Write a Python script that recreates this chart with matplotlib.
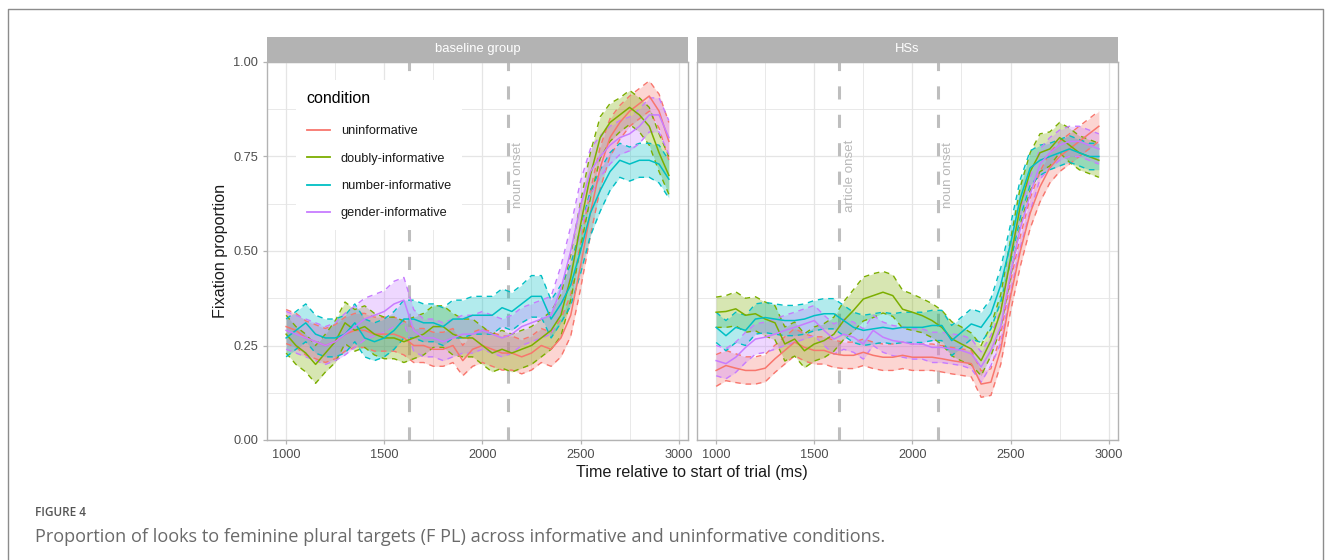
import matplotlib
matplotlib.use("Agg")
import matplotlib.pyplot as plt
from matplotlib.lines import Line2D
import numpy as np

# ---------------- data ----------------
time_ms = list(range(1000, 3000, 50))
conditions = ["uninformative", "doubly-informative", "number-informative", "gender-informative"]
colors = ["#F8766D", "#7CAE00", "#00BFC4", "#C77CFF"]
panels = ["baseline group", "HSs"]
tick_x = [1000, 1500, 2000, 2500, 3000]
tick_y = [0.00, 0.25, 0.50, 0.75, 1.00]
onsets_baseline = [1627, 2128]
onsets_hs = [1627, 2128]
onset_labels = ["article onset", "noun onset"]

# baseline group: means
base_uninf = [0.30, 0.29, 0.27, 0.26, 0.25, 0.26, 0.28, 0.29, 0.29, 0.28,
              0.28, 0.28, 0.27, 0.25, 0.25, 0.24, 0.24, 0.25, 0.21, 0.24,
              0.25, 0.24, 0.23, 0.23, 0.22, 0.23, 0.25, 0.24, 0.27, 0.33,
              0.46, 0.60, 0.72, 0.80, 0.84, 0.87, 0.89, 0.91, 0.87, 0.79]
base_doubly = [0.28, 0.25, 0.23, 0.20, 0.23, 0.26, 0.31, 0.29, 0.30, 0.28,
               0.27, 0.27, 0.26, 0.27, 0.28, 0.30, 0.30, 0.28, 0.27, 0.27,
               0.25, 0.23, 0.24, 0.23, 0.24, 0.25, 0.27, 0.29, 0.33, 0.43,
               0.57, 0.70, 0.80, 0.84, 0.86, 0.88, 0.86, 0.83, 0.76, 0.70]
base_number = [0.27, 0.29, 0.31, 0.28, 0.27, 0.27, 0.28, 0.31, 0.27, 0.26,
               0.27, 0.29, 0.32, 0.32, 0.31, 0.31, 0.30, 0.32, 0.32, 0.33,
               0.33, 0.33, 0.35, 0.34, 0.36, 0.38, 0.38, 0.32, 0.36, 0.41,
               0.50, 0.60, 0.66, 0.71, 0.74, 0.73, 0.74, 0.74, 0.73, 0.69]
base_gender = [0.29, 0.28, 0.27, 0.26, 0.25, 0.26, 0.28, 0.30, 0.32, 0.33,
               0.34, 0.36, 0.37, 0.29, 0.27, 0.27, 0.26, 0.27, 0.28, 0.28,
               0.29, 0.28, 0.27, 0.28, 0.30, 0.31, 0.32, 0.33, 0.40, 0.50,
               0.62, 0.71, 0.75, 0.78, 0.80, 0.81, 0.83, 0.86, 0.86, 0.80]
# baseline group: ribbon half-widths
base_uninf_hw = [0.045, 0.045, 0.045, 0.045, 0.045, 0.045, 0.045, 0.045, 0.045, 0.045,
                 0.045, 0.045, 0.045, 0.045, 0.045, 0.045, 0.045, 0.045, 0.040, 0.045,
                 0.045, 0.045, 0.045, 0.045, 0.045, 0.045, 0.045, 0.045, 0.050, 0.055,
                 0.060, 0.060, 0.055, 0.050, 0.045, 0.040, 0.040, 0.040, 0.045, 0.050]
base_doubly_hw = [0.050, 0.050, 0.050, 0.050, 0.050, 0.055, 0.055, 0.055, 0.055, 0.055,
                  0.055, 0.055, 0.055, 0.055, 0.055, 0.055, 0.055, 0.055, 0.050, 0.050,
                  0.050, 0.050, 0.050, 0.050, 0.050, 0.050, 0.050, 0.050, 0.055, 0.060,
                  0.060, 0.060, 0.055, 0.050, 0.045, 0.045, 0.045, 0.050, 0.050, 0.050]
base_number_hw = [0.050, 0.050, 0.050, 0.050, 0.050, 0.050, 0.050, 0.050, 0.050, 0.050,
                  0.050, 0.050, 0.050, 0.050, 0.050, 0.050, 0.050, 0.050, 0.050, 0.050,
                  0.050, 0.050, 0.050, 0.050, 0.050, 0.055, 0.055, 0.050, 0.050, 0.055,
                  0.060, 0.060, 0.055, 0.050, 0.045, 0.045, 0.045, 0.045, 0.050, 0.050]
base_gender_hw = [0.050, 0.050, 0.050, 0.050, 0.050, 0.050, 0.055, 0.055, 0.055, 0.055,
                  0.055, 0.060, 0.060, 0.055, 0.050, 0.050, 0.050, 0.050, 0.050, 0.050,
                  0.050, 0.050, 0.050, 0.050, 0.050, 0.050, 0.050, 0.050, 0.060, 0.065,
                  0.065, 0.060, 0.055, 0.050, 0.045, 0.045, 0.045, 0.045, 0.045, 0.045]

# HSs: means
hs_uninf = [0.184, 0.197, 0.190, 0.184, 0.184, 0.190, 0.215, 0.237, 0.259, 0.245,
            0.237, 0.237, 0.228, 0.224, 0.224, 0.232, 0.224, 0.219, 0.219, 0.224,
            0.219, 0.219, 0.219, 0.215, 0.210, 0.206, 0.202, 0.148, 0.153, 0.240,
            0.380, 0.500, 0.600, 0.670, 0.720, 0.750, 0.770, 0.790, 0.810, 0.830]
hs_doubly = [0.338, 0.340, 0.347, 0.330, 0.334, 0.320, 0.310, 0.254, 0.267, 0.236,
             0.254, 0.263, 0.280, 0.316, 0.343, 0.373, 0.382, 0.391, 0.382, 0.346,
             0.338, 0.329, 0.316, 0.298, 0.268, 0.254, 0.241, 0.210, 0.263, 0.340,
             0.480, 0.620, 0.710, 0.760, 0.770, 0.800, 0.780, 0.760, 0.750, 0.740]
hs_number = [0.298, 0.276, 0.298, 0.290, 0.320, 0.324, 0.320, 0.316, 0.316, 0.320,
             0.329, 0.334, 0.334, 0.316, 0.298, 0.290, 0.294, 0.298, 0.294, 0.298,
             0.298, 0.298, 0.303, 0.303, 0.263, 0.285, 0.307, 0.298, 0.334, 0.410,
             0.520, 0.640, 0.720, 0.740, 0.750, 0.760, 0.770, 0.760, 0.750, 0.750]
hs_gender = [0.210, 0.202, 0.219, 0.245, 0.267, 0.272, 0.280, 0.290, 0.298, 0.307,
             0.316, 0.290, 0.267, 0.280, 0.272, 0.254, 0.290, 0.272, 0.263, 0.259,
             0.254, 0.254, 0.245, 0.245, 0.241, 0.237, 0.228, 0.193, 0.237, 0.300,
             0.440, 0.560, 0.650, 0.730, 0.760, 0.780, 0.790, 0.790, 0.780, 0.770]
# HSs: ribbon half-widths
hs_uninf_hw = [0.042, 0.040, 0.038, 0.036, 0.036, 0.036, 0.036, 0.036, 0.036, 0.036,
               0.036, 0.036, 0.036, 0.035, 0.035, 0.035, 0.035, 0.035, 0.035, 0.035,
               0.035, 0.035, 0.035, 0.035, 0.035, 0.035, 0.035, 0.035, 0.035, 0.040,
               0.040, 0.040, 0.040, 0.040, 0.040, 0.040, 0.040, 0.040, 0.040, 0.040]
hs_doubly_hw = [0.040, 0.042, 0.045, 0.045, 0.045, 0.045, 0.045, 0.045, 0.045, 0.045,
                0.045, 0.045, 0.045, 0.050, 0.055, 0.058, 0.058, 0.055, 0.055, 0.050,
                0.048, 0.045, 0.045, 0.045, 0.045, 0.045, 0.042, 0.040, 0.040, 0.045,
                0.050, 0.050, 0.050, 0.050, 0.045, 0.040, 0.045, 0.045, 0.045, 0.045]
hs_number_hw = [0.040, 0.040, 0.040, 0.040, 0.040, 0.040, 0.040, 0.040, 0.040, 0.040,
                0.040, 0.040, 0.040, 0.040, 0.040, 0.040, 0.040, 0.040, 0.040, 0.040,
                0.040, 0.040, 0.040, 0.040, 0.040, 0.040, 0.040, 0.040, 0.040, 0.045,
                0.050, 0.050, 0.045, 0.040, 0.035, 0.035, 0.035, 0.035, 0.035, 0.035]
hs_gender_hw = [0.040, 0.040, 0.040, 0.040, 0.040, 0.040, 0.040, 0.040, 0.040, 0.040,
                0.040, 0.040, 0.040, 0.040, 0.040, 0.040, 0.040, 0.040, 0.040, 0.040,
                0.040, 0.040, 0.040, 0.040, 0.040, 0.040, 0.040, 0.040, 0.040, 0.045,
                0.050, 0.050, 0.045, 0.040, 0.040, 0.040, 0.040, 0.040, 0.040, 0.040]

panel_means = [[base_uninf, base_doubly, base_number, base_gender],
               [hs_uninf, hs_doubly, hs_number, hs_gender]]
panel_hws = [[base_uninf_hw, base_doubly_hw, base_number_hw, base_gender_hw],
             [hs_uninf_hw, hs_doubly_hw, hs_number_hw, hs_gender_hw]]
panel_onsets = [onsets_baseline, onsets_hs]
# which onset labels are visible (the legend hides the article label in panel 1)
panel_label_shown = [[False, True], [True, True]]

# ---------------- figure ----------------
plt.rcParams['font.family'] = ['Liberation Sans', 'DejaVu Sans']
W, H = 1330, 560
fig = plt.figure(figsize=(W / 100, H / 100), dpi=100)

def fx(px):
    return px / W

def fy(py):
    return 1 - py / H

panel_left = [267, 697]
panel_w = 421
p_top, p_bot = 62, 440
strip_top = 36.5

GRID = "#E5E5E5"
BORDER = "#B3B3B3"

axes = []
for i, name in enumerate(panels):
    ax = fig.add_axes([fx(panel_left[i]), fy(p_bot), panel_w / W, (p_bot - p_top) / H])
    axes.append(ax)
    t = np.array(time_ms)
    # onset lines
    for k, on in enumerate(panel_onsets[i]):
        ax.axvline(on, color="#BEBEBE", lw=2.2, dashes=(4.3, 5.0), zorder=1.5)
        if panel_label_shown[i][k]:
            ax.text(on + 55, 0.70, onset_labels[k], rotation=90, ha="center", va="center",
                    color="#B8B8B8", fontsize=9.6, zorder=1.6)
    # ribbons
    for c in range(4):
        m = np.array(panel_means[i][c])
        hw = np.array(panel_hws[i][c])
        ax.fill_between(t, m - hw, m + hw, color=colors[c], alpha=0.3, lw=0, zorder=2)
        ax.plot(t, m + hw, color=colors[c], lw=1.0, dashes=(4.0, 3.5), zorder=3)
        ax.plot(t, m - hw, color=colors[c], lw=1.0, dashes=(4.0, 3.5), zorder=3)
    for c in range(4):
        ax.plot(t, panel_means[i][c], color=colors[c], lw=1.1, zorder=4)

    ax.set_xlim(902.5, 3047.5)
    ax.set_ylim(0, 1)
    ax.set_xticks(tick_x)
    ax.set_xticks([1250, 1750, 2250, 2750], minor=True)
    ax.set_yticks(tick_y)
    ax.set_yticks([0.125, 0.375, 0.625, 0.875], minor=True)
    ax.grid(True, which="major", color=GRID, lw=0.9, zorder=0)
    ax.grid(True, which="minor", color=GRID, lw=0.6, zorder=0)
    ax.set_axisbelow(True)
    for s in ax.spines.values():
        s.set_color(BORDER)
        s.set_linewidth(1.0)
    ax.tick_params(which="major", color=BORDER, length=3, width=0.9,
                   labelcolor="#4D4D4D", labelsize=9.2, pad=3.5)
    ax.tick_params(which="minor", length=0)
    ax.set_xticklabels([str(v) for v in tick_x])
    if i == 0:
        ax.set_yticklabels(["%.2f" % v for v in tick_y])
    else:
        ax.tick_params(axis="y", which="both", left=False, labelleft=False)

    # strip
    sax = fig.add_axes([fx(panel_left[i]), fy(p_top), panel_w / W, (p_top - strip_top) / H])
    sax.set_facecolor(BORDER)
    sax.set_xticks([])
    sax.set_yticks([])
    for s in sax.spines.values():
        s.set_visible(False)
    sax.text(0.5, 0.5, name, ha="center", va="center", color="white", fontsize=9.4,
             transform=sax.transAxes)

# legend
handles = [Line2D([0], [0], color=colors[c], lw=1.3) for c in range(4)]
leg = axes[0].legend(handles, conditions, title="condition", loc="upper left",
                     bbox_to_anchor=((296 - 267) / panel_w, (440 - 80) / 378),
                     borderaxespad=0, frameon=True, framealpha=1, facecolor="white",
                     edgecolor="none", fancybox=False, fontsize=9.2, title_fontsize=11.5,
                     handlelength=1.8, handletextpad=0.85, labelspacing=1.2,
                     borderpad=0.85, alignment="left")
leg._legend_box.sep += 3.0
leg.set_zorder(10)
for txt in leg.get_texts():
    txt.set_color("#1A1A1A")

# axis titles
fig.text(fx(692), fy(472), "Time relative to start of trial (ms)", ha="center", va="center",
         fontsize=11.6, color="#1A1A1A")
fig.text(fx(220), fy(251), "Fixation proportion", ha="center", va="center", rotation=90,
         fontsize=11.6, color="#1A1A1A")

# caption
fig.text(fx(35), fy(513), "FIGURE 4", ha="left", va="center", fontsize=8.5,
         color="#555555", family=["Open Sans", "DejaVu Sans"], fontweight="semibold")
fig.text(fx(35), fy(537), "Proportion of looks to feminine plural targets (F PL) across informative and uninformative conditions.",
         ha="left", va="center", fontsize=13.1, color="#6A6A6A", family=["Open Sans", "DejaVu Sans"])

# outer frame
frame_col = "#8C8C8C"
fig.add_artist(Line2D([fx(7.5), fx(7.5), fx(1323), fx(1323)], [0, fy(8.5), fy(8.5), 0],
                      transform=fig.transFigure, color=frame_col, lw=1.0))

fig.savefig("out.png", dpi=100)
